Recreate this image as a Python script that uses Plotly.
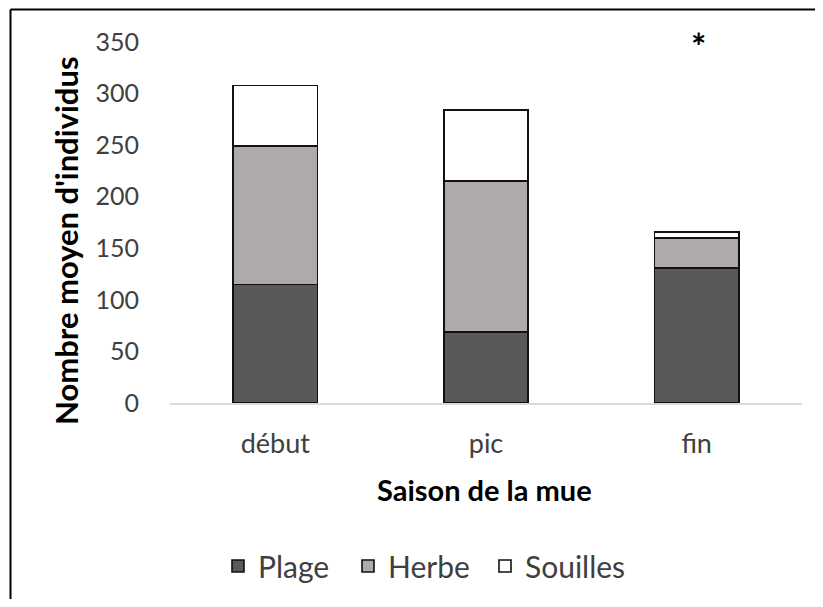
import plotly.graph_objects as go

categories = ["début", "pic", "fin"]
plage = [115, 69, 131]
herbe = [134, 146, 29]
souilles = [59, 69, 6]
series_names = ["Plage", "Herbe", "Souilles"]
series_colors = ["#595959", "#AEAAAA", "#FFFFFF"]
y_ticks = [0, 50, 100, 150, 200, 250, 300, 350]

FONT = "Lato"
OFF = 8  # page body margin
W, H = 823 - 2 * OFF, 607 - 2 * OFF
L, T = 170 - OFF, 42 - OFF
pw, ph = 632, 361
R, B = W - L - pw, H - T - ph

def px_to_paper(x, y):
    # x, y in window pixel coordinates
    return (x - OFF - L) / pw, (T + ph - (y - OFF)) / ph

legend_ids = ["legend", "legend2", "legend3"]
legend_px = [218, 348, 485]

fig = go.Figure()
for name, vals, col, lid in zip(series_names, [plage, herbe, souilles], series_colors, legend_ids):
    fig.add_trace(go.Bar(
        x=categories, y=vals, name=name, legend=lid,
        marker=dict(color=col, line=dict(color="#111111", width=1.6)),
        width=0.40,
    ))

fig.add_annotation(x=2, y=350, text="<b>*</b>", showarrow=False, xshift=2, yshift=-4,
                   font=dict(family=FONT, size=36, color="#000000"), yanchor="middle")

# axis titles
tx, ty = px_to_paper(66, 241)
fig.add_annotation(xref="paper", yref="paper", x=tx, y=ty, text="<b>Nombre moyen d'individus</b>",
                   textangle=-90, showarrow=False, xanchor="center", yanchor="middle",
                   font=dict(family=FONT, size=31, color="#000000"))
tx, ty = px_to_paper(484, 490)
fig.add_annotation(xref="paper", yref="paper", x=tx, y=ty, text="<b>Saison de la mue</b>",
                   showarrow=False, xanchor="center", yanchor="middle",
                   font=dict(family=FONT, size=29, color="#000000"))

# frame lines (top and left)
x0, y0 = px_to_paper(10.5, 9.5)
x1, y1 = px_to_paper(840, 640)
fig.add_shape(type="line", xref="paper", yref="paper", x0=x0, y0=y0, x1=x1, y1=y0,
              line=dict(color="#000000", width=2))
fig.add_shape(type="line", xref="paper", yref="paper", x0=x0, y0=y0, x1=x0, y1=y1,
              line=dict(color="#000000", width=2))

legend_layout = {}
for lid, px in zip(legend_ids, legend_px):
    lx, ly = px_to_paper(px, 566)
    legend_layout[lid] = dict(orientation="h", x=lx, y=ly, xanchor="left", yanchor="middle",
                              font=dict(family=FONT, size=30, color="#404040"),
                              itemwidth=30, bgcolor="rgba(0,0,0,0)")

fig.update_layout(
    width=W, height=H,
    margin=dict(l=L, r=R, t=T, b=B, pad=0, autoexpand=False),
    barmode="stack",
    plot_bgcolor="white", paper_bgcolor="white",
    font=dict(family=FONT, color="#404040"),
    showlegend=True,
    **legend_layout,
    xaxis=dict(
        showgrid=False, showline=True, linecolor="#D9D9D9", linewidth=2,
        tickfont=dict(family=FONT, size=27, color="#404040"),
        ticks="", ticklabelstandoff=16,
    ),
    yaxis=dict(
        range=[0, 350], tickvals=y_ticks, showgrid=False, showline=False, zeroline=False,
        tickfont=dict(family=FONT, size=25, color="#404040"),
        ticks="", ticklabelstandoff=30,
    ),
)

fig.write_html("out.html")
